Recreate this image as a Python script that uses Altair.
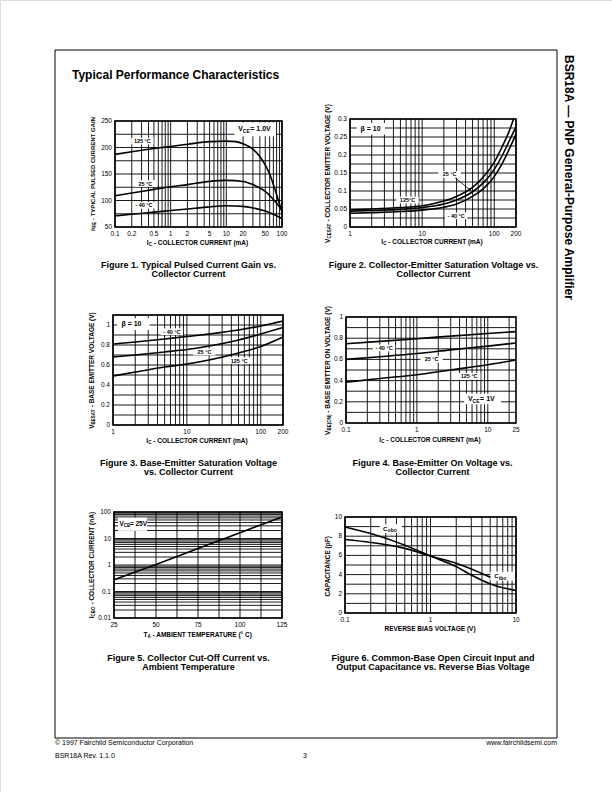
import math
import altair as alt
import pandas as pd

W, H = 612, 792
FONT = "Liberation Sans"

# ---------------- data ----------------
# Figure 1: hFE vs IC  (VCE = 1.0 V)
f1_ic_125 = [0.1, 0.2, 0.5, 1, 2, 5, 10, 15, 20, 30, 40, 50, 60, 70, 80, 90, 100]
f1_hfe_125 = [187, 192, 198, 202, 206, 211, 212, 211, 207, 197, 183, 167, 150, 130, 111, 94, 78]
f1_ic_25 = [0.1, 0.2, 0.5, 1, 2, 5, 10, 20, 30, 50, 70, 100]
f1_hfe_25 = [109, 114, 121, 126, 130, 136, 138, 136, 130, 117, 102, 82]
f1_ic_m40 = [0.1, 0.2, 0.5, 1, 2, 5, 10, 20, 30, 50, 70, 100]
f1_hfe_m40 = [71, 74, 78, 81, 84, 88, 90, 89, 86, 80, 74, 66]

# Figure 2: VCEsat vs IC (beta = 10)
f2_ic_125 = [1, 2, 5, 10, 20, 30, 50, 70, 100, 130, 160, 185]
f2_v_125 = [0.048, 0.050, 0.054, 0.059, 0.072, 0.085, 0.110, 0.138, 0.180, 0.225, 0.265, 0.300]
f2_ic = [1, 2, 5, 10, 20, 30, 50, 70, 100, 130, 160, 200]
f2_v_25 = [0.044, 0.046, 0.049, 0.054, 0.064, 0.075, 0.098, 0.122, 0.160, 0.200, 0.238, 0.278]
f2_v_m40 = [0.038, 0.040, 0.043, 0.047, 0.055, 0.064, 0.085, 0.106, 0.140, 0.178, 0.215, 0.258]

# Figure 3: VBEsat vs IC (beta = 10)
f3_ic = [1, 2, 5, 10, 20, 50, 100, 200]
f3_v_m40 = [0.81, 0.83, 0.86, 0.885, 0.91, 0.95, 0.99, 1.04]
f3_v_25 = [0.68, 0.70, 0.73, 0.755, 0.79, 0.85, 0.91, 0.975]
f3_v_125 = [0.49, 0.53, 0.58, 0.61, 0.65, 0.72, 0.785, 0.88]

# Figure 4: VBE(on) vs IC (VCE = 1 V)
f4_ic = [0.1, 0.3, 1, 3, 10, 25]
f4_v_m40 = [0.748, 0.77, 0.795, 0.82, 0.845, 0.862]
f4_v_25 = [0.60, 0.625, 0.655, 0.69, 0.725, 0.755]
f4_v_125 = [0.385, 0.42, 0.455, 0.50, 0.55, 0.595]

# Figure 5: ICBO vs TA (VCB = 25 V)
f5_t = [25, 50, 75, 100, 125]
f5_icbo = [0.28, 1.05, 4.2, 16.5, 65]

# Figure 6: Cobo / Cibo vs reverse bias
f6_v_obo = [0.1, 0.2, 0.5, 1, 2, 3, 5, 10]
f6_c_obo = [8.97, 8.28, 7.07, 5.93, 4.83, 3.95, 3.03, 2.34]
f6_v_ibo = [0.1, 0.2, 0.5, 1, 2, 5]
f6_c_ibo = [7.66, 7.35, 6.73, 5.93, 5.18, 3.73]

# tick labels
f1_xticks = [0.1, 0.2, 0.5, 1, 2, 5, 10, 20, 50, 100]
f1_yticks = [50, 100, 150, 200, 250]
f2_xticks = [1, 10, 100, 200]
f2_yticks = [0, 0.05, 0.1, 0.15, 0.2, 0.25, 0.3]
f3_xticks = [1, 10, 100, 200]
f3_yticks = [0, 0.2, 0.4, 0.6, 0.8, 1]
f4_xticks = [0.1, 1, 10, 25]
f4_yticks = [0, 0.2, 0.4, 0.6, 0.8, 1]
f5_xticks = [25, 50, 75, 100, 125]
f5_yticks = [0.01, 0.1, 1, 10, 100]
f6_xticks = [0.1, 1, 10]
f6_yticks = [0, 2, 4, 6, 8, 10]

# ---------------- helpers ----------------
CW = {" ": 278, "-": 333, "(": 333, ")": 333, ".": 278, "°": 400, "=": 584, "β": 600}
for ch in "0123456789":
    CW[ch] = 556
CW.update(dict(zip("ABCDEFGHIJKLMNOPQRSTUVWXYZ",
                   [722, 722, 722, 722, 667, 611, 778, 722, 278, 556, 722, 611, 833, 722, 778,
                    667, 778, 722, 667, 611, 722, 667, 944, 667, 667, 611])))
CW.update(dict(zip("abcdefghijklmnopqrstuvwxyz",
                   [556, 611, 556, 611, 556, 333, 611, 611, 278, 278, 556, 278, 889, 611, 611,
                    611, 611, 389, 556, 333, 611, 556, 778, 556, 556, 500])))


def twidth(s, size):
    return sum(CW.get(ch, 600) for ch in s) * size / 1000.0


def logvals(lo, hi):
    out = []
    e = math.floor(math.log10(lo) + 1e-9)
    while 10 ** e <= hi * 1.0001:
        for m in range(1, 10):
            v = round(m * 10 ** e, 10)
            if lo * 0.9999 <= v <= hi * 1.0001:
                out.append(v)
        e += 1
    return out


def linvals(lo, hi, step):
    n = int(round((hi - lo) / step))
    return [round(lo + i * step, 10) for i in range(n + 1)]


def frame_of(*triples):
    rows = []
    for name, xs, ys in triples:
        for a, b in zip(xs, ys):
            rows.append({"x": a, "y": b, "s": name})
    return pd.DataFrame(rows)


one = pd.DataFrame({"k": [0]})


def txt(s, x, y, size, weight="normal", align="left", angle=0, baseline="middle"):
    return alt.Chart(one).mark_text(
        font=FONT, fontSize=size, fontWeight=weight, align=align,
        baseline=baseline, angle=angle, color="black"
    ).encode(x=alt.value(x), y=alt.value(y), text=alt.value(s))


def rich_h(pieces, cx, cy):
    """pieces: (text, size, is_sub); centred horizontally at cx."""
    total = sum(twidth(t, sz) for t, sz, _ in pieces)
    x = cx - total / 2.0
    out = []
    for t, sz, sub in pieces:
        lead = len(t) - len(t.lstrip(" "))
        xs = x + twidth(" " * lead, sz)
        out.append(txt(t.strip(" "), xs, cy + (2 if sub else 0), sz, "bold"))
        x += twidth(t, sz)
    return out


def rich_v(pieces, cx, cy):
    """Vertical title reading bottom-to-top, centred at cy."""
    total = sum(twidth(t, sz) for t, sz, _ in pieces)
    y = cy + total / 2.0
    out = []
    for t, sz, sub in pieces:
        lead = len(t) - len(t.lstrip(" "))
        ys = y - twidth(" " * lead, sz)
        out.append(txt(t.strip(" "), cx + (2 if sub else 0), ys, sz, "bold", angle=270))
        y -= twidth(t, sz)
    return out


def fmt(v):
    return f"{v:g}"


LABEL_BG = "M-1,-0.3H1V0.3H-1Z"
TICK = 6.5


def make_panel(c):
    xs = alt.Scale(type=c["xtype"], domain=c["xdom"], range=[c["x0"], c["x1"]], nice=False)
    ys = alt.Scale(type=c["ytype"], domain=c["ydom"], range=[c["y1"], c["y0"]], nice=False)
    X = lambda f: alt.X(f, scale=xs, axis=None)
    Y = lambda f: alt.Y(f, scale=ys, axis=None)
    XD = lambda v: alt.XDatum(v, scale=xs, axis=None)
    YD = lambda v: alt.YDatum(v, scale=ys, axis=None)

    layers = []
    layers.append(alt.Chart(pd.DataFrame({"g": c["xgrid"]})).mark_rule(
        color="black", strokeWidth=0.9).encode(
        x=X("g:Q"), y=YD(c["ydom"][0]), y2=alt.Y2Datum(c["ydom"][1])))
    layers.append(alt.Chart(pd.DataFrame({"g": c["ygrid"]})).mark_rule(
        color="black", strokeWidth=0.9).encode(
        y=Y("g:Q"), x=XD(c["xdom"][0]), x2=alt.X2Datum(c["xdom"][1])))
    for (bx0, bx1, by0, by1) in c.get("boxes", []):
        layers.append(alt.Chart(one).mark_rect(fill="white", stroke=None).encode(
            x=XD(bx0), x2=alt.X2Datum(bx1), y=YD(by0), y2=alt.Y2Datum(by1)))
    if c.get("labels"):
        lab = pd.DataFrame(c["labels"], columns=["x", "y", "t"])
        layers.append(alt.Chart(lab).mark_point(
            shape=LABEL_BG, filled=True, fill="white", opacity=1, strokeWidth=0,
            size=500).encode(x=X("x:Q"), y=Y("y:Q")))
    layers.append(alt.Chart(c["curves"]).mark_line(
        color="black", strokeWidth=1.6, interpolate=c.get("interp", "monotone")).encode(
        x=X("x:Q"), y=Y("y:Q"), detail="s:N"))
    layers.append(alt.Chart(one).mark_rect(fillOpacity=0, stroke="black", strokeWidth=1.6).encode(
        x=XD(c["xdom"][0]), x2=alt.X2Datum(c["xdom"][1]),
        y=YD(c["ydom"][0]), y2=alt.Y2Datum(c["ydom"][1])))
    for (ax0, ay0, ax1, ay1, ang) in c.get("arrows", []):
        layers.append(alt.Chart(one).mark_rule(color="black", strokeWidth=0.8).encode(
            x=XD(ax0), x2=alt.X2Datum(ax1), y=YD(ay0), y2=alt.Y2Datum(ay1)))
        layers.append(alt.Chart(one).mark_point(
            shape="triangle-right", angle=ang, size=10, filled=True, color="black", opacity=1).encode(
            x=XD(ax1), y=YD(ay1)))
    if c.get("labels"):
        layers.append(alt.Chart(lab).mark_text(
            font=FONT, fontSize=5.5, fontWeight="bold", color="black", align="center",
            baseline="middle").encode(x=X("x:Q"), y=Y("y:Q"), text="t:N"))
    for (tx, ty, pieces) in c.get("rich", []):
        for (s, dx, dy, size) in pieces:
            layers.append(alt.Chart(one).mark_text(
                font=FONT, fontSize=size, fontWeight="bold", color="black",
                align="left", baseline="middle", dx=dx, dy=dy).encode(
                x=XD(tx), y=YD(ty), text=alt.value(s)))
    # tick labels, drawn through the panel scales
    xt = pd.DataFrame({"v": c["xticks"], "t": [fmt(v) for v in c["xticks"]]})
    layers.append(alt.Chart(xt).mark_text(
        font=FONT, fontSize=TICK, color="black", align="center", baseline="middle", dy=6.5).encode(
        x=X("v:Q"), y=YD(c["ydom"][0]), text="t:N"))
    yt = pd.DataFrame({"v": c["yticks"], "t": [fmt(v) for v in c["yticks"]]})
    layers.append(alt.Chart(yt).mark_text(
        font=FONT, fontSize=TICK, color="black", align="right", baseline="middle", dx=-3).encode(
        y=Y("v:Q"), x=XD(c["xdom"][0]), text="t:N"))
    return alt.layer(*layers)


panels = [
    dict(x0=115, x1=282, y0=121, y1=227, xtype="log", xdom=[0.1, 100], ytype="linear", ydom=[50, 250],
         xticks=f1_xticks, yticks=f1_yticks,
         xgrid=logvals(0.1, 100), ygrid=linvals(50, 250, 25),
         curves=frame_of(("125", f1_ic_125, f1_hfe_125), ("25", f1_ic_25, f1_hfe_25),
                         ("-40", f1_ic_m40, f1_hfe_m40)),
         labels=[(0.31, 212, "125 °C"), (0.35, 132, "25 °C"), (0.33, 91, "- 40 °C")],
         boxes=[(14, 78, 221, 247)],
         rich=[(16.4, 234, [("V", 0, 0, 7), ("CE", 4.5, 2, 5), ("= 1.0V", 12, 0, 7)])]),
    dict(x0=350, x1=516, y0=119, y1=227, xtype="log", xdom=[1, 200], ytype="linear", ydom=[0, 0.3],
         xticks=f2_xticks, yticks=f2_yticks,
         xgrid=logvals(1, 200), ygrid=linvals(0, 0.3, 0.025),
         curves=frame_of(("125", f2_ic_125, f2_v_125), ("25", f2_ic, f2_v_25), ("-40", f2_ic, f2_v_m40)),
         labels=[(24, 0.146, "25 °C"), (6.27, 0.075, "125°C"), (29.6, 0.031, "- 40 °C")],
         arrows=[(28.6, 0.137, 46, 0.103, 39)],
         boxes=[(1.24, 3.06, 0.257, 0.289)],
         rich=[(1.4, 0.273, [("β = 10", 0, 0, 7)])]),
    dict(x0=113, x1=283, y0=315, y1=425, xtype="log", xdom=[1, 200], ytype="linear", ydom=[0, 1.1],
         xticks=f3_xticks, yticks=f3_yticks,
         xgrid=logvals(1, 200), ygrid=linvals(0, 1.1, 0.1),
         curves=frame_of(("-40", f3_ic, f3_v_m40), ("25", f3_ic, f3_v_25), ("125", f3_ic, f3_v_125)),
         labels=[(6.27, 0.933, "- 40 °C"), (17.3, 0.73, "25 °C"), (51, 0.643, "125 °C")],
         boxes=[(1.13, 3.12, 0.95, 1.067)],
         rich=[(1.3, 1.01, [("β = 10", 0, 0, 7)])]),
    dict(x0=346, x1=516, y0=317, y1=423, xtype="log", xdom=[0.1, 25], ytype="linear", ydom=[0, 1],
         xticks=f4_xticks, yticks=f4_yticks,
         xgrid=logvals(0.1, 25), ygrid=linvals(0, 1, 0.1),
         curves=frame_of(("-40", f4_ic, f4_v_m40), ("25", f4_ic, f4_v_25), ("125", f4_ic, f4_v_125)),
         labels=[(0.344, 0.708, "- 40 °C"), (1.61, 0.601, "25 °C"), (5.46, 0.44, "125 °C")],
         boxes=[(4.64, 15.3, 0.176, 0.277)],
         rich=[(5.28, 0.226, [("V", 0, 0, 7), ("CE", 4.5, 2, 5), ("= 1V", 12, 0, 7)])]),
    dict(x0=114, x1=282, y0=512, y1=618, xtype="linear", xdom=[25, 125], ytype="log", ydom=[0.01, 100],
         xticks=f5_xticks, yticks=f5_yticks,
         xgrid=linvals(25, 125, 12.5), ygrid=logvals(0.01, 100),
         curves=frame_of(("icbo", f5_t, f5_icbo)), interp="linear",
         boxes=[(27.4, 44.7, 19.4, 61.6)],
         rich=[(28.2, 34.6, [("V", 0, 0, 6.5), ("CB", 4.3, 2, 4.5), ("= 25V", 10.5, 0, 6.5)])]),
    dict(x0=345, x1=516, y0=517, y1=613, xtype="log", xdom=[0.1, 10], ytype="linear", ydom=[0, 10],
         xticks=f6_xticks, yticks=f6_yticks,
         xgrid=logvals(0.1, 10), ygrid=linvals(0, 10, 1),
         curves=frame_of(("obo", f6_v_obo, f6_c_obo), ("ibo", f6_v_ibo, f6_c_ibo)),
         boxes=[(0.257, 0.461, 8.34, 9.24), (5.0, 9.8, 3.37, 4.31)],
         rich=[(0.279, 8.8, [("C", 0, 0, 6), ("obo", 4.5, 1.5, 5)]),
               (5.57, 3.85, [("C", 0, 0, 6), ("ibo", 4.5, 1.5, 5)])]),
]

TS, SS = 6.5, 4.5   # title size, subscript size
ic_title = [("I", TS, False), ("C", SS, True), (" - COLLECTOR CURRENT  (mA)", TS, False)]

titles = []
titles += rich_h(ic_title, 198.5, 242.5)
titles += rich_v([("h", 6, False), ("FE", SS, True), (" - TYPICAL PULSED CURRENT GAIN", 6, False)], 92.5, 174)
titles += rich_h(ic_title, 433, 242)
titles += rich_v([("V", TS, False), ("CESAT", SS, True), (" - COLLECTOR EMITTER VOLTAGE (V)", TS, False)],
                 328, 173)
titles += rich_h(ic_title, 198, 440.5)
titles += rich_v([("V", TS, False), ("BESAT", SS, True), (" - BASE EMITTER VOLTAGE (V)", TS, False)], 91.5, 370)
titles += rich_h(ic_title, 431, 439.5)
titles += rich_v([("V", TS, False), ("BE(ON)", SS, True), (" - BASE EMITTER ON VOLTAGE (V)", TS, False)],
                 328, 370)
titles += rich_h([("T", TS, False), ("A", SS, True), (" - AMBIENT TEMPERATURE (° C)", TS, False)], 198, 634.5)
titles += rich_v([("I", TS, False), ("CBO", SS, True), (" - COLLECTOR CURRENT (nA)", TS, False)], 91.5, 565)
titles += rich_h([("REVERSE BIAS VOLTAGE (V)", TS, False)], 430.5, 629)
titles += rich_v([("CAPACITANCE  (pF)", TS, False)], 328, 565)

page = [
    alt.Chart(one).mark_rect(fillOpacity=0, stroke="black", strokeWidth=1).encode(
        x=alt.value(55), x2=alt.value(557), y=alt.value(50), y2=alt.value(738)),
    txt("Typical Performance Characteristics", 72, 75, 12, "bold"),
    txt("BSR18A — PNP General-Purpose Amplifier", 569, 55, 12, "bold", angle=90),
    txt("© 1997 Fairchild Semiconductor Corporation", 55, 743, 7),
    txt("www.fairchildsemi.com", 557, 743, 7, align="right"),
    txt("BSR18A Rev. 1.1.0", 55, 756, 7),
    txt("3", 305, 756, 7, align="center"),
    txt("Figure 1. Typical Pulsed Current Gain vs.", 188.5, 265, 9, "bold", align="center"),
    txt("Collector Current", 188.5, 274, 9, "bold", align="center"),
    txt("Figure 2. Collector-Emitter Saturation Voltage vs.", 433.5, 265, 9, "bold", align="center"),
    txt("Collector Current", 433.5, 274, 9, "bold", align="center"),
    txt("Figure 3. Base-Emitter Saturation Voltage", 188.5, 463, 9, "bold", align="center"),
    txt("vs. Collector Current", 188.5, 472, 9, "bold", align="center"),
    txt("Figure 4. Base-Emitter On Voltage vs.", 432.5, 463, 9, "bold", align="center"),
    txt("Collector Current", 432.5, 472, 9, "bold", align="center"),
    txt("Figure 5. Collector Cut-Off Current vs.", 188.5, 658, 9, "bold", align="center"),
    txt("Ambient Temperature", 188.5, 667, 9, "bold", align="center"),
    txt("Figure 6. Common-Base Open Circuit Input and", 433, 658, 9, "bold", align="center"),
    txt("Output Capacitance vs. Reverse Bias Voltage", 433, 667, 9, "bold", align="center"),
] + titles

chart = alt.layer(*page, *[make_panel(p) for p in panels]).resolve_scale(
    x="independent", y="independent").properties(
    width=W, height=H, padding=0, autosize=alt.AutoSizeParams(type="none")
).configure_view(stroke=None).configure(background="white", font=FONT)

chart.save("out.html", embed_options={"renderer": "svg", "actions": False})
